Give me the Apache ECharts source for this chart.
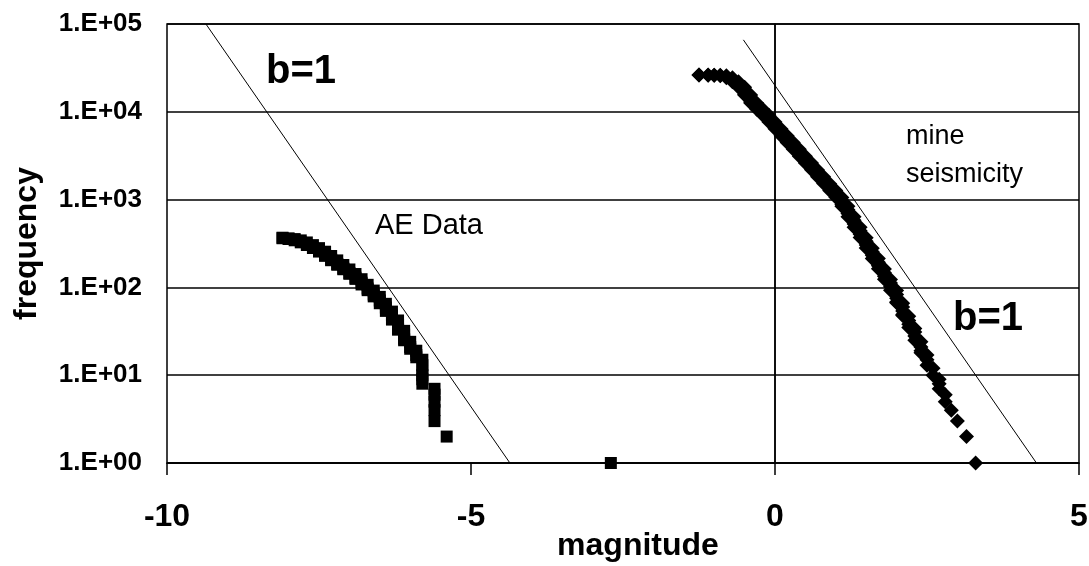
<!DOCTYPE html>
<html>
<head>
<meta charset="utf-8">
<script src="https://cdn.jsdelivr.net/npm/echarts@6/dist/echarts.min.js"></script>
<style>
html,body{margin:0;padding:0;background:#fff;}
#chart{width:1089px;height:566px;}
</style>
</head>
<body>
<div id="chart"></div>
<script>
// ---- data ----
// AE data: magnitude bins and cumulative frequency N(>=M)
var aeMag = [-8.1,-8.0,-7.9,-7.8,-7.7,-7.6,-7.5,-7.4,-7.3,-7.2,-7.1,-7.0,-6.9,-6.8,-6.7,-6.6,-6.5,-6.4,-6.3,-6.2,-6.1,-6.0,-5.9,-5.8,-5.6,-5.4,-2.7];
var aeCum = [368,362,355,343,325,303,280,255,228,203,180,160,142,124,107,92,78,65,53,42,32,24,19,15,7,2,1];
// Mine seismicity: magnitude bins and cumulative frequency N(>=M)
var mineMag = [-1.25,-1.1,-1.0,-0.9,-0.8,-0.7,-0.6,-0.5,-0.4,-0.3,-0.2,-0.1,0.0,0.1,0.2,0.3,0.4,0.5,0.6,0.7,0.8,0.9,1.0,1.1,1.2,1.3,1.4,1.5,1.6,1.7,1.8,1.9,2.0,2.1,2.2,2.3,2.4,2.5,2.6,2.7,2.8,2.9,3.0,3.15,3.3];
var mineCum = [26300,26200,26100,26000,25800,24500,22000,19000,15500,12600,10700,9140,7640,6390,5350,4470,3740,3120,2610,2180,1820,1520,1270,1060,838,637,484,368,280,213,162,123,92,66,47,34,24,17,12,9,6,4,3,2,1];
// b=1 reference lines (end points: magnitude, frequency)
var bLineAE = [[-9.36, 100000], [-4.36, 1]];
var bLineMine = [[-0.52, 66000], [4.3, 1]];
// axis tick labels
var xTicks = [-10, -5, 0, 5];
var yTickLabels = ['1.E+00','1.E+01','1.E+02','1.E+03','1.E+04','1.E+05'];

// cumulative plot: every event rank within a bin sits at the bin magnitude
function rankPoints(mags, cums) {
  var pts = [];
  for (var i = 0; i < mags.length; i++) {
    var top = cums[i];
    var bottom = (i + 1 < cums.length) ? cums[i + 1] + 1 : top;
    if (bottom > top) bottom = top;
    var last = null;
    for (var k = top; k >= bottom; k--) {
      if (last === null || Math.log10(last) - Math.log10(k) >= 0.04 || k === bottom) {
        pts.push([mags[i], k]);
        last = k;
      }
    }
  }
  return pts;
}

var FONT = 'Liberation Sans, Arial, sans-serif';
var chart = echarts.init(document.getElementById('chart'), null, {renderer: 'canvas'});
var option = {
  backgroundColor: '#fff',
  animation: false,
  grid: {left: 167, right: 10, top: 24, bottom: 103, containLabel: false, outerBoundsMode: 'none',
    show: true, borderColor: '#000', borderWidth: 1.5, backgroundColor: 'transparent'},
  xAxis: {
    type: 'value', min: xTicks[0], max: xTicks[xTicks.length - 1], interval: 5,
    name: 'magnitude', nameLocation: 'middle', nameGap: 67, nameMoveOverlap: false,
    nameTextStyle: {fontFamily: FONT, fontWeight: 'bold', fontSize: 32, color: '#000', padding: [0, 0, 0, 30]},
    axisLine: {show: true, onZero: false, lineStyle: {color: '#000', width: 1.5}},
    axisTick: {show: true, inside: false, length: 12, lineStyle: {color: '#000', width: 1.5}},
    axisLabel: {margin: 38, fontFamily: FONT, fontWeight: 'bold', fontSize: 32, color: '#000'},
    splitLine: {show: false}
  },
  yAxis: {
    type: 'log', logBase: 10, min: 1, max: 100000,
    name: 'frequency', nameLocation: 'middle', nameGap: 124, nameRotate: 90, nameMoveOverlap: false,
    nameTextStyle: {fontFamily: FONT, fontWeight: 'bold', fontSize: 32, color: '#000'},
    axisLine: {show: true, lineStyle: {color: '#000', width: 1.5}},
    axisTick: {show: false},
    axisLabel: {margin: 25, fontFamily: FONT, fontWeight: 'bold', fontSize: 26, color: '#000',
      formatter: function (v) { var e = Math.round(Math.log10(v)); return yTickLabels[e]; }},
    splitLine: {show: true, lineStyle: {color: '#000', width: 1.5}}
  },
  series: [
    {
      name: 'b=1 AE', type: 'line', data: bLineAE, showSymbol: false, symbol: 'none',
      lineStyle: {color: '#000', width: 1}, z: 3, silent: true,
      markLine: {silent: true, symbol: 'none', label: {show: false},
        lineStyle: {color: '#000', width: 1.5, type: 'solid'}, data: [{xAxis: 0}]}
    },
    {
      name: 'b=1 mine', type: 'line', data: bLineMine, showSymbol: false, symbol: 'none',
      lineStyle: {color: '#000', width: 1}, z: 3, silent: true
    },
    {
      name: 'AE Data', type: 'scatter', data: rankPoints(aeMag, aeCum),
      symbol: 'rect', symbolSize: 12, itemStyle: {color: '#000', opacity: 1}, z: 4, silent: true
    },
    {
      name: 'mine seismicity', type: 'scatter', data: rankPoints(mineMag, mineCum),
      symbol: 'diamond', symbolSize: [15, 15], itemStyle: {color: '#000', opacity: 1}, z: 4, silent: true
    }
  ],
  graphic: [
    {type: 'text', left: 266, top: 52, style: {text: 'b=1', font: 'bold 40px ' + FONT, fill: '#000'}},
    {type: 'text', left: 375, top: 211, style: {text: 'AE Data', font: 'normal 29px ' + FONT, fill: '#000'}},
    {type: 'text', left: 906, top: 123, style: {text: 'mine', font: 'normal 27px ' + FONT, fill: '#000'}},
    {type: 'text', left: 906, top: 161, style: {text: 'seismicity', font: 'normal 27px ' + FONT, fill: '#000'}},
    {type: 'text', left: 953, top: 299, style: {text: 'b=1', font: 'bold 40px ' + FONT, fill: '#000'}}
  ]
};
chart.setOption(option);
</script>
</body>
</html>
